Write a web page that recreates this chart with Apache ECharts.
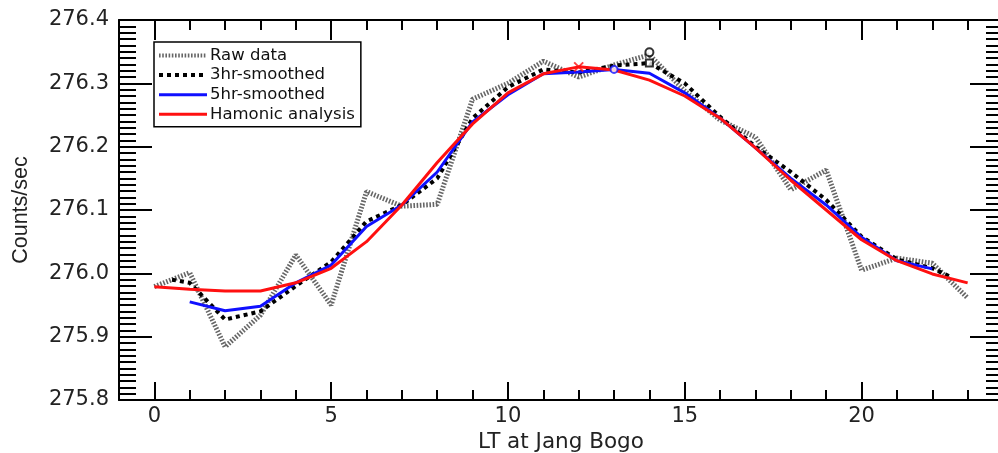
<!DOCTYPE html>
<html>
<head>
<meta charset="utf-8">
<script src="https://cdn.jsdelivr.net/npm/echarts@6/dist/echarts.min.js"></script>
<style>
html,body{margin:0;padding:0;background:#fff;}
#chart{width:998px;height:453px;}
</style>
</head>
<body>
<div id="chart"></div>
<script>
// ---- data ----
const rawHours = [0,1,2,3,4,5,6,7,8,9,10,11,12,13,14,15,16,17,18,19,20,21,22,23];
const rawValues = [275.979,276.001,275.884,275.934,276.029,275.950,276.129,276.106,276.109,276.275,276.300,276.335,276.310,276.329,276.345,276.288,276.242,276.215,276.132,276.163,276.005,276.024,276.016,275.961];

const smooth3Hours = [0.5,1,2,3,4,5,6,7,8,9,10,11,12,13,14,15,16,17,18,19,20,21,22,22.5];
const smooth3Values = [275.990,275.985,275.927,275.940,275.980,276.018,276.082,276.108,276.150,276.245,276.294,276.322,276.317,276.328,276.332,276.300,276.247,276.200,276.160,276.116,276.058,276.022,276.008,275.995];

const smooth5Hours = [1,2,3,4,5,6,7,8,9,10,11,12,13,14,15,16,17,18,19,20,21,22];
const smooth5Values = [275.955,275.941,275.948,275.985,276.013,276.074,276.108,276.160,276.239,276.282,276.315,276.318,276.322,276.316,276.285,276.245,276.198,276.150,276.108,276.057,276.020,276.007];

const harmHours = [0,1,2,3,4,5,6,7,8,9,10,11,12,13,14,15,16,17,18,19,20,21,22,23];
const harmValues = [275.979,275.975,275.972,275.972,275.985,276.008,276.050,276.108,276.175,276.236,276.285,276.315,276.326,276.321,276.305,276.280,276.245,276.198,276.147,276.100,276.053,276.020,275.999,275.985];

// maxima markers
const harmMax = [12, 276.326];
const smooth5Max = [13, 276.322];
const smooth3Max = [14, 276.332];
const rawMax = [14, 276.349];

const xLabelValues = [0,5,10,15,20];

const seriesNames = ['Raw data','3hr-smoothed','5hr-smoothed','Hamonic analysis'];

function pairs(xs, ys){ return xs.map((x,i)=>[x, ys[i]]); }

const FONT = 'DejaVu Sans';
const chart = echarts.init(document.getElementById('chart'), null, {renderer:'canvas'});

const gridLeft = 119, gridTop = 20, gridWidth = 884, gridHeight = 380;

function xAxisBase(pos, extra){
  return Object.assign({
    type:'value', position:pos, min:-1, max:24, interval:1,
    axisLine:{show:true, onZero:false, lineStyle:{color:'#000', width:2}},
    axisTick:{show:true, inside:true, length:10, lineStyle:{color:'#000', width:2}},
    axisLabel:{show:false},
    splitLine:{show:false}
  }, extra);
}

const legendHide = {opacity:0};

const option = {
  backgroundColor:'#fff',
  animation:false,
  grid:{left:gridLeft, top:gridTop, width:gridWidth, height:gridHeight, containLabel:false, outerBoundsMode:'none'},
  legend:{
    orient:'vertical', left:154, top:42,
    data:[
      {name:seriesNames[0], lineStyle:{width:4}, itemStyle:legendHide},
      {name:seriesNames[1], lineStyle:{width:4}, itemStyle:legendHide},
      {name:seriesNames[2], lineStyle:{width:3}, itemStyle:legendHide},
      {name:seriesNames[3], lineStyle:{width:3}, itemStyle:legendHide}
    ],
    itemWidth:48, itemHeight:14, itemGap:2.6,
    padding:[5,6,4,3],
    borderColor:'#000', borderWidth:1.5,
    backgroundColor:'#fff',
    textStyle:{fontFamily:FONT, fontSize:16.5, lineHeight:16, color:'#111', padding:[0,0,0,-2]},
    selectedMode:false
  },
  xAxis:[
    xAxisBase('bottom', {
      name:'LT at Jang Bogo', nameLocation:'middle', nameGap:25,
      nameTextStyle:{fontFamily:FONT, fontSize:21.5, color:'#222'},
      axisLabel:{show:true, customValues:xLabelValues, margin:6, fontFamily:FONT, fontSize:21, color:'#222'}
    }),
    xAxisBase('bottom', {
      axisLine:{show:false, onZero:false},
      axisTick:{show:true, inside:true, length:18, customValues:xLabelValues, lineStyle:{color:'#000', width:2}}
    }),
    xAxisBase('top', {}),
    xAxisBase('top', {
      axisLine:{show:false, onZero:false},
      axisTick:{show:true, inside:true, length:20, customValues:xLabelValues, lineStyle:{color:'#000', width:2}}
    })
  ],
  yAxis:[
    {
      type:'value', position:'left', min:275.8, max:276.4, interval:0.1,
      name:'Counts/sec', nameLocation:'middle', nameGap:87, nameRotate:90,
      nameTextStyle:{fontFamily:'Liberation Sans', fontSize:21.5, color:'#222'},
      axisLine:{show:true, onZero:false, lineStyle:{color:'#000', width:2}},
      axisTick:{show:true, inside:true, length:33, lineStyle:{color:'#000', width:2}},
      minorTick:{show:true, splitNumber:10, length:17, lineStyle:{color:'#000', width:2}},
      axisLabel:{show:true, margin:10, fontFamily:FONT, fontSize:21, color:'#222', formatter:v=>v.toFixed(1)},
      splitLine:{show:false}, minorSplitLine:{show:false}
    },
    {
      type:'value', position:'right', min:275.8, max:276.4, interval:0.1,
      axisLine:{show:true, onZero:false, lineStyle:{color:'#000', width:2}},
      axisTick:{show:true, inside:true, length:33, lineStyle:{color:'#000', width:2}},
      minorTick:{show:true, splitNumber:10, length:17, lineStyle:{color:'#000', width:2}},
      axisLabel:{show:false},
      splitLine:{show:false}, minorSplitLine:{show:false}
    }
  ],
  series:[
    {
      name:seriesNames[0], type:'line', data:pairs(rawHours, rawValues), symbol:'none',
      lineStyle:{color:'#666666', width:5, type:[1.6,1.6]}, itemStyle:{color:'#666666'}, z:2
    },
    {
      name:seriesNames[1], type:'line', data:pairs(smooth3Hours, smooth3Values), symbol:'none',
      lineStyle:{color:'#000', width:4, type:[4,4]}, itemStyle:{color:'#000'}, z:3
    },
    {
      name:seriesNames[2], type:'line', data:pairs(smooth5Hours, smooth5Values), symbol:'none',
      lineStyle:{color:'#1010ff', width:3}, itemStyle:{color:'#1010ff'}, z:4
    },
    {
      name:seriesNames[3], type:'line', data:pairs(harmHours, harmValues), symbol:'none',
      lineStyle:{color:'#ff1010', width:3}, itemStyle:{color:'#ff1010'}, z:5
    },
    {
      name:'rawMax', type:'scatter', data:[rawMax], symbol:'emptyCircle', symbolSize:8,
      itemStyle:{color:'#000', borderColor:'#000', borderWidth:2}, z:6
    },
    {
      name:'smooth3Max', type:'scatter', data:[smooth3Max], symbol:'emptyRect', symbolSize:7,
      itemStyle:{color:'#000', borderColor:'#000', borderWidth:2}, z:6
    },
    {
      name:'smooth5Max', type:'scatter', data:[smooth5Max], symbol:'emptyCircle', symbolSize:7,
      itemStyle:{color:'#1010ff', borderColor:'#1010ff', borderWidth:2}, z:6
    },
    {
      name:'harmMax', type:'scatter', data:[harmMax], symbol:'path://M0,0L10,10M10,0L0,10', symbolSize:9,
      itemStyle:{color:'transparent', borderColor:'#ff1010', borderWidth:2}, z:7
    }
  ]
};
chart.setOption(option);
</script>
</body>
</html>
